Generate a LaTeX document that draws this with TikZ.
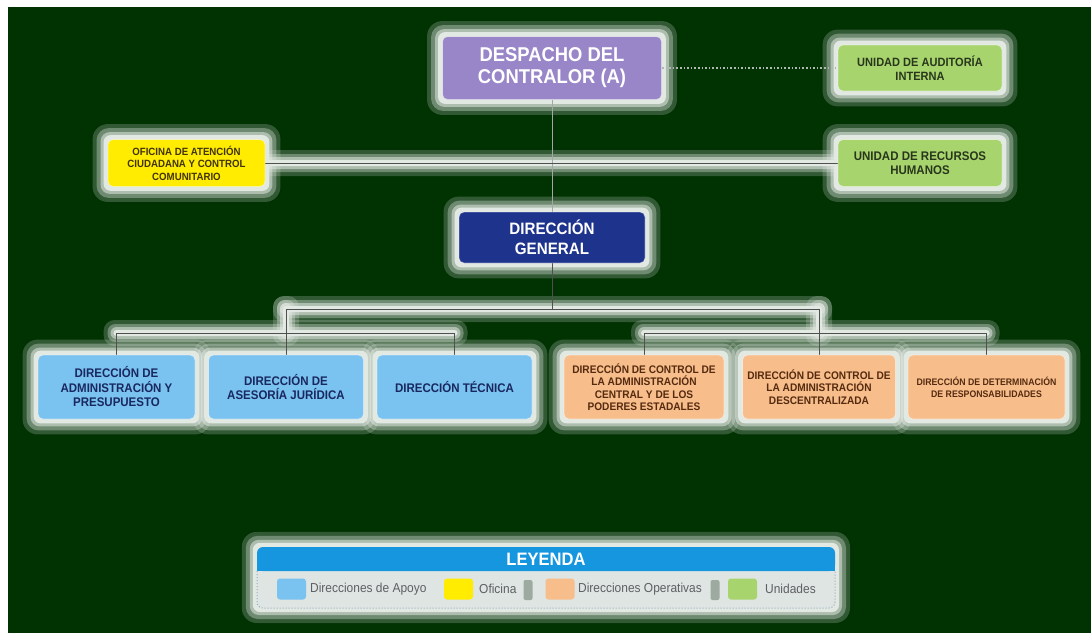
\documentclass[tikz,border=0pt]{standalone}
\usepackage{fontspec}
\setmainfont{Liberation Sans}
\newfontfamily\nar[FakeStretch=0.92]{Liberation Sans}
\usetikzlibrary{calc}
\pgfdeclarelayer{glowl}
\pgfdeclarelayer{linel}
\pgfsetlayers{glowl,linel,main}
\definecolor{bggreen}{RGB}{0,50,2}
\definecolor{glowc}{RGB}{226,232,226}
\definecolor{purp}{RGB}{152,134,200}
\definecolor{unitg}{RGB}{168,212,110}
\definecolor{ofiy}{RGB}{255,236,0}
\definecolor{navy}{RGB}{30,52,140}
\definecolor{lblue}{RGB}{122,194,240}
\definecolor{orng}{RGB}{247,190,140}
\definecolor{legblue}{RGB}{22,150,222}
\definecolor{legbody}{RGB}{222,229,226}
\definecolor{linec}{RGB}{80,80,80}
\definecolor{navytxt}{RGB}{25,40,95}
\definecolor{browntxt}{RGB}{85,42,15}
\definecolor{greentxt}{RGB}{40,55,28}
\definecolor{olivetxt}{RGB}{65,52,10}
\definecolor{legtxt}{RGB}{95,95,100}
\definecolor{sepgray}{RGB}{130,145,132}
\definecolor{dotc}{RGB}{175,185,178}
\definecolor{legdot}{RGB}{150,170,190}
% glow: #1 top-left point, #2 bottom-right point (picture coordinates, y downwards)
\newcommand{\mkglow}[2]{%
  \foreach \d/\o/\r in {15/0.22/15,11/0.35/12,7/0.55/9,4/1/7}{%
    \fill[glowc, opacity=\o, rounded corners=\r pt]
      ([shift={(-\d,-\d)}]#1) rectangle ([shift={(\d,\d)}]#2);
  }}
\newcommand{\mklineglow}[2]{%
  \foreach \d/\o/\r in {13/0.22/11,9/0.35/8,6/0.55/6,3/1/3}{%
    \fill[glowc, opacity=\o, rounded corners=\r pt]
      ([shift={(-\d,-\d)}]#1) rectangle ([shift={(\d,\d)}]#2);
  }}
\begin{document}
\begin{tikzpicture}[x=1pt,y=-1pt,
  orgbox/.style={rounded corners=5pt, inner sep=0pt, align=center, line width=0.8pt, draw=white, draw opacity=0.45},
  conn/.style={draw=linec, line width=0.8pt},
  swatch/.style={rounded corners=3pt, inner sep=0pt, minimum width=29pt, minimum height=21pt},
  legtext/.style={anchor=west, inner sep=0pt, text=legtxt, font=\nar\fontsize{13}{15}\selectfont},
  sepbar/.style={fill=sepgray, fill opacity=0.7, rounded corners=2pt, inner sep=0pt, minimum width=9pt, minimum height=20pt}
]
\useasboundingbox (0,0) rectangle (1091,633);
\begin{pgfonlayer}{glowl}
  \fill[white] (0,0) rectangle (1091,633);
  \fill[bggreen] (8,7) rectangle (1091,633);
\end{pgfonlayer}

% ---- boxes ----
\node[orgbox, fill=purp, minimum width=219pt, minimum height=63pt, text=white,
  font=\nar\bfseries\fontsize{20}{22}\selectfont] (desp) at (552,68) {DESPACHO DEL\\CONTRALOR (A)};
\node[orgbox, fill=unitg, minimum width=164pt, minimum height=46pt, text=greentxt,
  font=\nar\bfseries\fontsize{12}{13.5}\selectfont] (aud) at (920,68) {UNIDAD DE AUDITORÍA\\INTERNA};
\node[orgbox, fill=ofiy, minimum width=157pt, minimum height=47pt, text=olivetxt,
  font=\nar\bfseries\fontsize{10.5}{12.5}\selectfont] (ofi) at (186.5,163) {OFICINA DE ATENCIÓN\\CIUDADANA Y CONTROL\\COMUNITARIO};
\node[orgbox, fill=unitg, minimum width=164pt, minimum height=47pt, text=greentxt,
  font=\nar\bfseries\fontsize{12.5}{14}\selectfont] (rrhh) at (920,163) {UNIDAD DE RECURSOS\\HUMANOS};
\node[orgbox, fill=navy, minimum width=186pt, minimum height=51pt, text=white,
  font=\nar\bfseries\fontsize{16.5}{19.5}\selectfont] (dg) at (552,237.5) {DIRECCIÓN\\GENERAL};

\tikzset{bluebox/.style={orgbox, fill=lblue, minimum height=64pt, text=navytxt,
  font=\nar\bfseries\fontsize{12.5}{14.5}\selectfont},
  orangebox/.style={orgbox, fill=orng, minimum height=64pt, text=browntxt,
  font=\nar\bfseries\fontsize{11}{12.5}\selectfont}}
\node[bluebox, minimum width=157pt] (b1) at (116.5,387) {DIRECCIÓN DE\\ADMINISTRACIÓN Y\\PRESUPUESTO};
\node[bluebox, minimum width=155pt] (b2) at (286,387) {DIRECCIÓN DE\\ASESORÍA JURÍDICA};
\node[bluebox, minimum width=155pt] (b3) at (454.5,387) {DIRECCIÓN TÉCNICA};
\node[orangebox, minimum width=160pt] (b4) at (644,387) {DIRECCIÓN DE CONTROL DE\\LA ADMINISTRACIÓN\\CENTRAL Y DE LOS\\PODERES ESTADALES};
\node[orangebox, minimum width=153pt] (b5) at (819,387) {DIRECCIÓN DE CONTROL DE\\LA ADMINISTRACIÓN\\DESCENTRALIZADA};
\node[orangebox, minimum width=157pt, font=\nar\bfseries\fontsize{9.5}{12}\selectfont] (b6) at (986.5,387) {DIRECCIÓN DE DETERMINACIÓN\\DE RESPONSABILIDADES};

% ---- connector coordinates ----
\coordinate (j0) at (552,309);
\coordinate (k0) at (552,333);
\coordinate (jl) at (b2.north |- j0);
\coordinate (jr) at (b5.north |- j0);
\coordinate (kl1) at (b1.north |- k0);
\coordinate (kl2) at (b2.north |- k0);
\coordinate (kl3) at (b3.north |- k0);
\coordinate (kr1) at (b4.north |- k0);
\coordinate (kr2) at (b5.north |- k0);
\coordinate (kr3) at (b6.north |- k0);

% ---- legend ----
\fill[legbody] (257,566) [rounded corners=6pt] rectangle (835,608);
\fill[legblue] (257,559) rectangle (835,571);
\node[fill=legblue, rounded corners=6pt, inner sep=0pt, minimum width=578pt, minimum height=24pt, text=white,
  font=\nar\bfseries\fontsize{18}{20}\selectfont] (leghead) at (546,559) {LEYENDA};
\coordinate (lbl) at (257,571);
\coordinate (lbr) at (835,571);
\coordinate (lgbr) at (835,608);
\draw[legdot, line width=1pt, dotted, rounded corners=6pt] (lbl) -- (257,608) -- (lgbr) -- (lbr);
\node[swatch, fill=lblue] (s1) at (291.5,589) {};
\node[legtext] (t1) at (310,589) {Direcciones de Apoyo};
\node[swatch, fill=ofiy] (s2) at (458.5,589) {};
\node[legtext] (t2) at (479,589) {Oficina};
\node[sepbar] (sep1) at (528,590) {};
\node[swatch, fill=orng] (s3) at (560,589) {};
\node[legtext] (t3) at (578,589) {Direcciones Operativas};
\node[sepbar] (sep2) at (715,590) {};
\node[swatch, fill=unitg] (s4) at (742.5,589) {};
\node[legtext] (t4) at (765,589) {Unidades};

% ---- glows ----
\begin{pgfonlayer}{glowl}
  \foreach \n in {desp,aud,ofi,rrhh,dg,b1,b2,b3,b4,b5,b6}{
    \mkglow{\n.north west}{\n.south east}
  }
  \mkglow{leghead.north west}{lgbr}
  \mklineglow{ofi.east}{rrhh.west}
  \mklineglow{jl}{jr}
  \mklineglow{kl1}{kl3}
  \mklineglow{kr1}{kr3}
  \mklineglow{jl}{kl2}
  \mklineglow{jr}{kr2}
\end{pgfonlayer}

% ---- connectors ----
\begin{pgfonlayer}{linel}
  \draw[conn, draw=gray!70] (desp.south) -- (dg.north);
  \draw[conn] (ofi.east) -- (rrhh.west);
  \draw[dotc, line width=1.6pt, dash pattern=on 1.6pt off 2pt] (desp.east) -- (aud.west);
  \draw[conn] (dg.south) -- (j0);
  \draw[conn] (jl) -- (jr);
  \draw[conn] (jl) -- (kl2);
  \draw[conn] (jr) -- (kr2);
  \draw[conn] (kl1) -- (kl3);
  \draw[conn] (kr1) -- (kr3);
  \draw[conn] (kl1) -- (b1.north);
  \draw[conn] (kl2) -- (b2.north);
  \draw[conn] (kl3) -- (b3.north);
  \draw[conn] (kr1) -- (b4.north);
  \draw[conn] (kr2) -- (b5.north);
  \draw[conn] (kr3) -- (b6.north);
\end{pgfonlayer}
\end{tikzpicture}
\end{document}
